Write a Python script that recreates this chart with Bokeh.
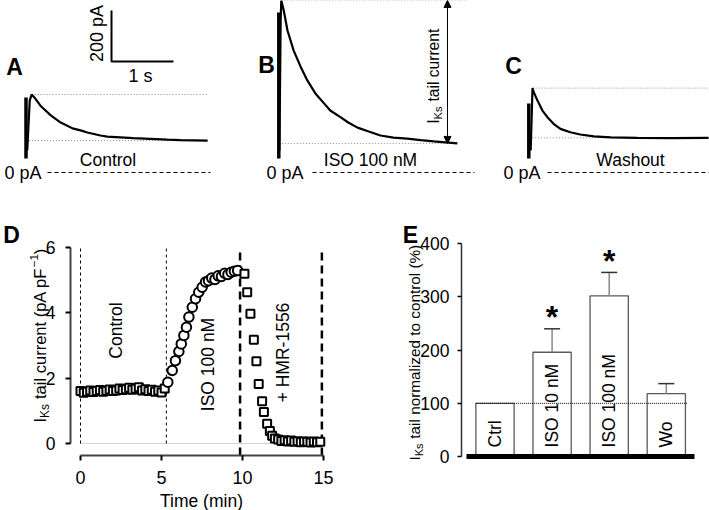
import math
import numpy as np
from bokeh.plotting import figure
from bokeh.layouts import row, column
from bokeh.models import Label, Range1d, Arrow, NormalHead, FixedTicker
from bokeh.core.properties import value
from bokeh.embed import file_html
from bokeh.resources import INLINE

# ---------------- data ----------------
# Panels A-C: IKs tail current traces (time in s, current in pA)
a_t = [0.02, 0.06, 0.09, 0.15, 0.23, 0.28, 0.40, 0.56, 0.75, 0.88, 0.99, 1.20, 1.31, 1.73, 2.28, 2.49, 2.93]
a_i = [86, 282, 306, 290, 263, 251, 224, 196, 173, 165, 157, 145, 141, 135, 129, 127, 125]
b_t = [0.01, 0.03, 0.04, 0.08, 0.14, 0.24, 0.35, 0.46, 0.59, 0.73, 0.83, 1.00, 1.12, 1.27, 1.45, 1.64,
       1.85, 2.07, 2.29, 2.50, 2.69, 2.88]
b_i = [86, 596, 675, 635, 557, 478, 416, 361, 310, 271, 243, 216, 196, 176, 161, 145,
       137, 133, 127, 122, 118, 114]
c_t = [0.03, 0.06, 0.08, 0.14, 0.22, 0.30, 0.40, 0.51, 0.67, 0.83, 1.05, 1.32, 1.75, 2.29, 2.90]
c_i = [86, 331, 315, 282, 243, 217, 191, 171, 158, 149, 142, 138, 136, 135, 136]
artifact_top = [294, 627, 271]          # pA, capacitive transient at t = 0
artifact_bottom = 55
trace_names = ["Control", "ISO 100 nM", "Washout"]
panel_letters = ["A", "B", "C"]
scale_s = 1.0                            # scale bar: 1 s
scale_pa = 200                           # scale bar: 200 pA

# Panel D: time course (min, pA/pF)
ctrl_t = [0.0, 0.2, 0.4, 0.6, 0.8, 1.0, 1.2, 1.4, 1.6, 1.8, 2.0, 2.2, 2.4, 2.6, 2.8, 3.0, 3.2, 3.4,
          3.6, 3.8, 4.0, 4.2, 4.4, 4.6, 4.8, 5.0, 5.2]
ctrl_v = [1.60, 1.55, 1.58, 1.62, 1.57, 1.60, 1.63, 1.58, 1.61, 1.65, 1.60, 1.62, 1.68, 1.63, 1.66,
          1.70, 1.64, 1.67, 1.72, 1.62, 1.66, 1.60, 1.64, 1.58, 1.62, 1.56, 1.68]
iso_t = [5.39, 5.66, 5.86, 6.07, 6.22, 6.38, 6.54, 6.69, 6.90, 7.10, 7.30, 7.51, 7.72, 7.90, 8.10,
         8.30, 8.50, 8.70, 8.90, 9.10, 9.30, 9.50, 9.70]
iso_v = [1.87, 2.23, 2.53, 2.81, 3.04, 3.30, 3.55, 3.86, 4.16, 4.42, 4.62, 4.77, 4.93, 4.97, 5.05,
         5.01, 5.12, 5.10, 5.20, 5.16, 5.23, 5.26, 5.28]
hmr_t = [10.12, 10.29, 10.49, 10.70, 10.86, 11.00, 11.21, 11.32, 11.52, 11.69, 11.83, 12.0, 12.2,
         12.4, 12.6, 12.8, 13.0, 13.2, 13.4, 13.6, 13.8, 14.0, 14.2, 14.4, 14.6, 14.8]
hmr_v = [5.18, 4.62, 3.96, 3.17, 2.51, 1.82, 1.29, 0.96, 0.60, 0.38, 0.24, 0.15, 0.12, 0.08, 0.10,
         0.06, 0.09, 0.05, 0.07, 0.04, 0.06, 0.05, 0.03, 0.06, 0.04, 0.05]
d_phase_thin = [0.0, 5.3]        # control start, ISO start
d_phase_thick = [9.85, 14.9]     # HMR-1556 period
d_xticks = [0, 5, 10, 15]
d_yticks = [0, 2, 4, 6]

# Panel E: normalized tail current (%)
e_cats = ["Ctrl", "ISO 10 nM", "ISO 100 nM", "Wo"]
e_vals = [100, 196, 302, 118]
e_err = [0, 44, 44, 19]
e_sig = [False, True, True, False]
e_yticks = [0, 100, 200, 300, 400]

# ---------------- layout helpers ----------------
FONT = "Liberation Sans"
PI2 = math.pi / 2

WID = {" ": .278, "(": .333, ")": .333, "%": .889, "-": .333, "+": .584, "*": .389, "\u2212": .584,
       "A": .667, "B": .667, "C": .722, "D": .722, "E": .667, "F": .611, "H": .722, "I": .278,
       "K": .667, "M": .833, "N": .722, "O": .778, "R": .722, "S": .667, "T": .611, "W": .944,
       "a": .556, "c": .5, "d": .556, "e": .556, "h": .556, "i": .222, "l": .222, "m": .833,
       "n": .556, "o": .556, "p": .556, "r": .333, "s": .5, "t": .278, "u": .556, "z": .5}


def tw(s, size):
    return sum(WID.get(ch, 0.556) for ch in s) * size


def fpx(size):
    return f"{size:.1f}px"


def base_fig(w, h, xr, yr, **kw):
    p = figure(width=w, height=h, x_range=xr, y_range=yr, output_backend="svg",
               toolbar_location=None, min_border=0, **kw)
    p.outline_line_color = None
    p.background_fill_color = "white"
    p.border_fill_color = "white"
    p.grid.visible = False
    return p


def label(p, conv, x, y, text, size, align="center", baseline="middle", angle=0.0, bold=False):
    xd, yd = conv(x, y)
    p.add_layout(Label(x=xd, y=yd, text=text, text_font=FONT, text_font_size=fpx(size),
                       text_align=align, text_baseline=baseline, angle=angle,
                       text_font_style="bold" if bold else "normal", text_color="black"))


def rot_pieces(p, conv, xb, y0, pieces):
    # pieces: (text, size, baseline shift, space before)
    y = y0
    for text, size, shift, gap in pieces:
        y -= gap
        label(p, conv, xb + shift, y, text, size, align="left", baseline="alphabetic", angle=PI2)
        y -= tw(text, size)


def iks_pieces(rest, m, sup=False):
    pcs = [("I", m, 0, 0), ("Ks", 0.72 * m, 0.3 * m, 0), (rest, m, 0, 0.278 * m + 0.5)]
    if sup:
        pcs += [("\u22121", 0.7 * m, -0.38 * m, 0.5), (")", m, 0, 0)]
    return pcs


def style_axis(ax, ticks, font_size, line_color, line_width, tick_out, standoff):
    ax.ticker = FixedTicker(ticks=ticks)
    ax.bounds = (ticks[0], ticks[-1])
    ax.axis_line_color = line_color
    ax.axis_line_width = line_width
    ax.major_tick_line_color = "black"
    ax.major_tick_line_width = line_width
    ax.major_tick_out = tick_out
    ax.major_tick_in = 0
    ax.minor_tick_line_color = None
    ax.major_label_text_font = FONT
    ax.major_label_text_font_size = fpx(font_size)
    ax.major_label_text_color = "black"
    ax.major_label_standoff = standoff


# ---------------- top row: traces ----------------
TOP_H = 190
top_w = [237, 239, 233]
lefts = np.concatenate([[0], np.cumsum(top_w)])
X0 = [25.5, 278.3, 528.3]        # px of t = 0 in each panel
Y0 = 172.0                       # px of 0 pA
PX_S, PX_PA = 62.0, 0.255

traces = [(a_t, a_i), (b_t, b_i), (c_t, c_i)]
name_x = [107.5, 370, 630]
zero_right = [41, 303, 540]
dash_span = [(47, 210), (312, 474), (547, 709)]
letter_xy = [(14, 66), (266, 64), (513, 65)]
dot_end_px = [207, 467, 709]

top_figs = []
for k in range(3):
    x0 = X0[k]
    conv = (lambda x0_: (lambda x, y: ((x - x0_) / PX_S, (Y0 - y) / PX_PA)))(x0)
    tl, ib = conv(lefts[k], TOP_H)
    tr, it = conv(lefts[k + 1], 0)
    p = base_fig(top_w[k], TOP_H, Range1d(tl, tr), Range1d(ib, it),
                 x_axis_location=None, y_axis_location=None)
    t, cur = traces[k]
    ipk = int(np.argmax(cur))
    dot_end = conv(dot_end_px[k], 0)[0]
    p.line([t[ipk], dot_end], [cur[ipk], cur[ipk]], line_color="#8c8c8c", line_dash="1 2", line_width=1)
    p.line([0, t[-1]], [cur[-1], cur[-1]], line_color="#8c8c8c", line_dash="1 2", line_width=1)
    d0, d1 = conv(dash_span[k][0], 0)[0], conv(dash_span[k][1], 0)[0]
    p.line([d0, d1], [0, 0], line_color="black", line_dash="4 3", line_width=1)
    p.line([0, 0], [artifact_bottom, artifact_top[k]], line_color="black", line_width=3.5)
    p.line(t, cur, line_color="black", line_width=2.2)
    label(p, conv, zero_right[k], Y0, "0 pA", 18, align="right")
    label(p, conv, name_x[k], 159, trace_names[k], 17.5)
    label(p, conv, letter_xy[k][0], letter_xy[k][1], panel_letters[k], 23, bold=True)
    if k == 0:
        ts, i_s = conv(111, 61)
        p.line([ts, ts, ts + scale_s], [i_s + scale_pa, i_s, i_s], line_color="black", line_width=2)
        label(p, conv, 96.5, 33, f"{scale_pa} pA", 18, angle=PI2)
        label(p, conv, 140, 75, f"{scale_s:g} s", 18)
    if k == 1:
        ta = conv(447, 0)[0]
        p.add_layout(Arrow(start=NormalHead(size=7, fill_color="black", line_color="black"),
                           end=NormalHead(size=7, fill_color="black", line_color="black"),
                           x_start=ta, y_start=cur[-1], x_end=ta, y_end=cur[ipk],
                           line_color="black", line_width=1))
        rot_pieces(p, conv, 433.3, 123.3, iks_pieces("tail current", 15.6))
    top_figs.append(p)

# ---------------- bottom row ----------------
BOT_H = 320
D_W, E_W = 398, 311


# ---- panel D ----
def d_conv(x, y):
    return (x - 80) / 16.2, (443 - y) / 32.75


dxl, dyb = d_conv(0, TOP_H + BOT_H)
dxr, dyt = d_conv(D_W, TOP_H)
d = base_fig(D_W, BOT_H, Range1d(dxl, dxr), Range1d(dyb, dyt))
x_axis_at = d_conv(0, 455)[1]
y_axis_at = d_conv(70, 0)[0]
d.xaxis.fixed_location = x_axis_at
d.yaxis.fixed_location = y_axis_at
style_axis(d.xaxis, d_xticks, 18, "#444444", 2, 5, 10)
style_axis(d.yaxis, d_yticks, 17.5, "#444444", 2, 5, 10)

d.line([d_xticks[0], d_xticks[-1]], [0, 0], line_color="#aaaaaa", line_dash="1 1", line_width=1)
d.segment(x0=d_phase_thin, y0=[0, 0], x1=d_phase_thin, y1=[d_yticks[-1]] * 2,
          line_color="black", line_dash="3 3", line_width=1)
d.segment(x0=d_phase_thick, y0=[x_axis_at] * 2, x1=d_phase_thick, y1=[5.9, 5.9],
          line_color="black", line_dash="8 5", line_width=2.5)
d.scatter(ctrl_t, ctrl_v, marker="square", size=8, line_color="black", line_width=2,
          fill_color="white")
d.scatter(iso_t, iso_v, marker="circle", size=9.5, line_color="black", line_width=2,
          fill_color="white")
d.scatter(hmr_t, hmr_v, marker="square", size=8, line_color="black", line_width=2,
          fill_color="white")
label(d, d_conv, 115, 330, "Control", 17.5, angle=PI2)
label(d, d_conv, 207, 364, "ISO 100 nM", 17.5, angle=PI2)
label(d, d_conv, 282, 352, "+ HMR-1556", 17.5, angle=PI2)
label(d, d_conv, 201, 500, "Time (min)", 17.5)
label(d, d_conv, 11, 234, "D", 23, bold=True)
rot_pieces(d, d_conv, 39.5, 422, iks_pieces("tail current (pA pF", 16.5, sup=True))


# ---- panel E ----
def e_conv(x, y):
    return (x - 494.5) / 57.1 + 0.5, (456 - y) / 0.532


exl, eyb = e_conv(D_W, TOP_H + BOT_H)
exr, eyt = e_conv(D_W + E_W, TOP_H)
e = base_fig(E_W, BOT_H, Range1d(exl, exr), Range1d(eyb, eyt))
e.xaxis.fixed_location = 0
e.yaxis.fixed_location = e_conv(461, 0)[0]
e.xaxis.ticker = FixedTicker(ticks=[])
e.xaxis.bounds = (0, len(e_cats))
e.xaxis.axis_line_color = "black"
e.xaxis.axis_line_width = 5
e.xaxis.major_tick_line_color = None
e.xaxis.minor_tick_line_color = None
e.xaxis.major_label_text_font_size = "0px"
style_axis(e.yaxis, e_yticks, 17.5, "#333333", 1.5, 4, 8)

xs = np.arange(len(e_cats)) + 0.5
vals = np.array(e_vals, dtype=float)
errs = np.array(e_err, dtype=float)
BW = 0.67
e.vbar(x=xs, width=BW, top=vals, bottom=0, fill_color="white", line_color="#5a5a5a", line_width=1.3)
e.text(x=xs, y=[17] * len(xs), text=e_cats, angle=PI2, text_align="left", text_baseline="middle",
       text_font=value(FONT), text_font_size=fpx(17.5), text_color="black")
e.line([xs[0] - BW / 2, xs[-1] + BW / 2 + 0.04], [e_vals[0]] * 2, line_color="black",
       line_dash="1 1", line_width=1)
has = errs > 0
e.segment(x0=xs[has], y0=vals[has], x1=xs[has], y1=(vals + errs)[has], line_color="#888888",
          line_width=1.5)
e.segment(x0=xs[has] - 0.14, y0=(vals + errs)[has], x1=xs[has] + 0.14, y1=(vals + errs)[has],
          line_color="#333333", line_width=1.5)
sig = np.array(e_sig)
e.text(x=xs[sig], y=(vals + errs)[sig] + 22, text=["*"] * int(sig.sum()), text_align="center",
       text_baseline="alphabetic", text_font=value(FONT), text_font_size=fpx(32),
       text_font_style="bold", text_color="black")
label(e, e_conv, 410, 234, "E", 23, bold=True)
rot_pieces(e, e_conv, 413.8, 460, iks_pieces("tail normalized to control (%)", 15.3))

layout = column(row(*top_figs), row(d, e))
open("out.html", "w").write(file_html(layout, INLINE))
